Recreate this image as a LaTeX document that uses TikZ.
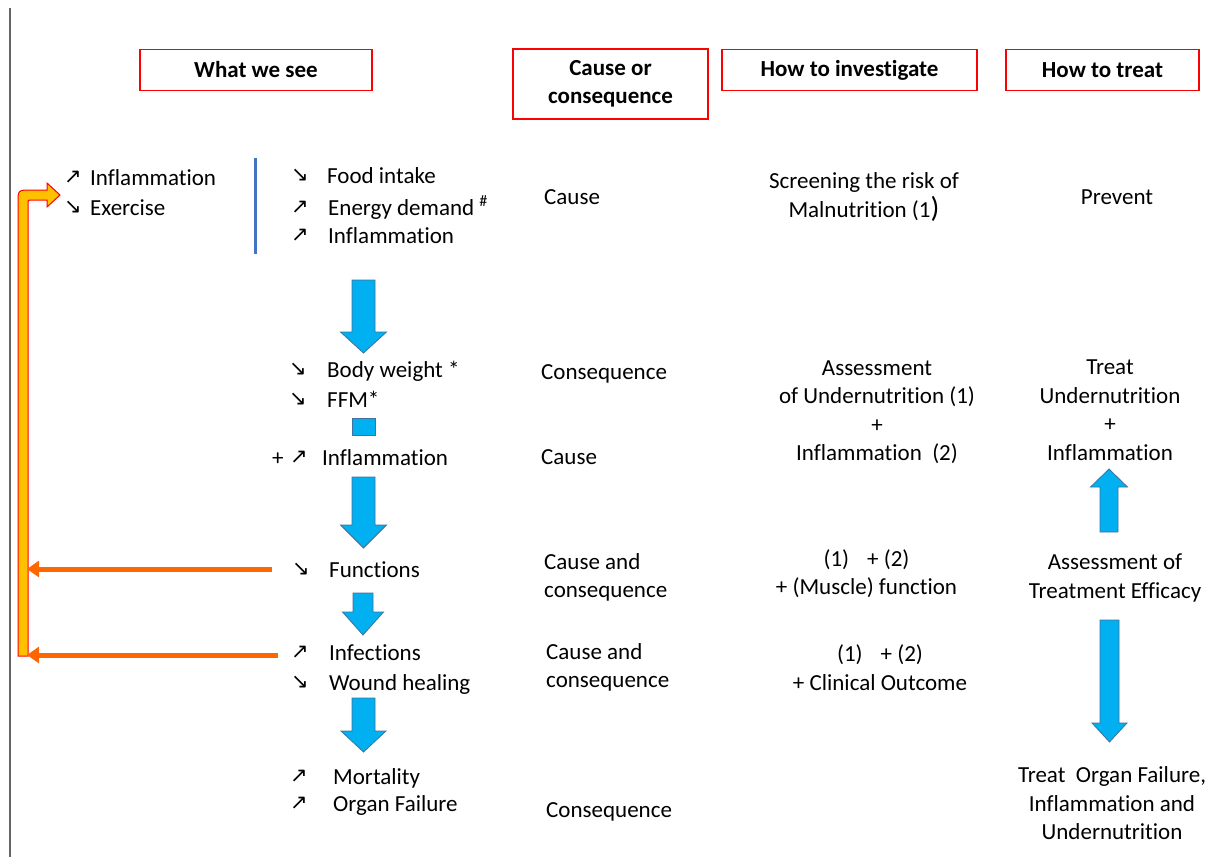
\documentclass[tikz,border=0pt]{standalone}
\usepackage{fontspec}
\setmainfont{Carlito}[Ligatures=NoCommon]
\newfontfamily\symf{DejaVu Sans}
\usetikzlibrary{arrows.meta}
\definecolor{hdrred}{RGB}{255,0,0}
\definecolor{bluefill}{RGB}{0,176,240}
\definecolor{blueline}{RGB}{65,113,156}
\definecolor{orangec}{RGB}{255,102,0}
\definecolor{goldc}{RGB}{255,192,0}
\definecolor{barblue}{RGB}{68,114,196}
\definecolor{greyline}{RGB}{100,100,100}
\newcommand\arrUp{{\symf\fontsize{21}{21}\selectfont ↗}}
\newcommand\arrDn{{\symf\fontsize{21}{21}\selectfont ↘}}
\newcommand\blkarrow[6]{% cx, start, headbase, tip, shaft half, head half
  \filldraw[blk] (#1-#5,#2) -- (#1+#5,#2) -- (#1+#5,#3) -- (#1+#6,#3) -- (#1,#4) -- (#1-#6,#3) -- (#1-#5,#3) -- cycle;}
\begin{document}
\begin{tikzpicture}[x=1pt,y=-1pt,
  every node/.style={inner sep=0pt, font=\fontsize{23}{28.5}\selectfont},
  txt/.style={anchor=west, text height=21pt, text depth=4pt},
  sym/.style={anchor=west},
  ctr/.style={align=center, anchor=center},
  lft/.style={align=left, anchor=west},
  hdr/.style={draw=hdrred, line width=1.3pt, font=\bfseries\fontsize{23}{28.5}\selectfont, align=center},
  blk/.style={fill=bluefill, draw=blueline, line width=0.8pt},
  orng/.style={draw=orangec, line width=5pt, -{Triangle[length=12pt,width=16pt]}},
]
\useasboundingbox (0,0) rectangle (1213,857);
% left grey rule
\draw[greyline, line width=2pt] (10,8) -- (10,857);

% headers
\node[hdr, minimum width=232, minimum height=41] (h1) at (256,70) {What we see};
\node[hdr, minimum width=195, minimum height=70] (h2) at (610.5,84) {Cause or\\consequence};
\node[hdr, minimum width=255, minimum height=41] (h3) at (849.5,70) {How to investigate};
\node[hdr, minimum width=193, minimum height=41] (h4) at (1102.5,70) {How to treat};

% left side causes
\node[sym] (la1) at (64,177) {\arrUp};
\node[txt] (lt1) at (90,177) {Inflammation};
\node[sym] (la2) at (64,207) {\arrDn};
\node[txt] (lt2) at (90,207) {Exercise};

\draw[barblue, line width=3pt] (255,158) -- (255,254);

% what we see column
\node[sym] (a1) at (291,175) {\arrDn};
\node[txt] (t1) at (327,175) {Food intake};
\node[sym] (a2) at (291,207) {\arrUp};
\node[txt] (t2) at (328,207) {Energy demand \textsuperscript{\#}};
\node[sym] (a3) at (291,235) {\arrUp};
\node[txt] (t3) at (328,235) {Inflammation};

\node[sym] (a4) at (289,369) {\arrDn};
\node[txt] (t4) at (327,369) {Body weight *};
\node[sym] (a5) at (289,399) {\arrDn};
\node[txt] (t5) at (327,399) {FFM*};

\node[txt] (p6) at (272,457) {+};
\node[sym] (a6) at (290,457) {\arrUp};
\node[txt] (t6) at (322,457) {Inflammation};

\node[sym] (a7) at (292,569) {\arrDn};
\node[txt] (t7) at (329,569) {Functions};

\node[sym] (a8) at (291,652) {\arrUp};
\node[txt] (t8) at (329,652) {Infections};
\node[sym] (a9) at (291,682) {\arrDn};
\node[txt] (t9) at (329,682) {Wound healing};

\node[sym] (a10) at (290,776) {\arrUp};
\node[txt] (t10) at (333,776) {Mortality};
\node[sym] (a11) at (290,803) {\arrUp};
\node[txt] (t11) at (333,803) {Organ Failure};

% blue block arrows (left)
\blkarrow{363.5}{280}{332}{353}{11.5}{23}
\filldraw[blk] (352,418) rectangle (375,435);
\blkarrow{363.5}{477}{525}{548}{11.5}{23}
\blkarrow{363}{593}{612}{635}{10}{20.5}
\blkarrow{363.5}{698}{731}{752}{11.5}{22.5}

% cause or consequence column
\node[txt] (c1) at (544,196) {Cause};
\node[txt] (c2) at (541,371) {Consequence};
\node[txt] (c3) at (541,456) {Cause};
\node[lft] (c4) at (544,577.5) {Cause and\\consequence};
\node[lft] (c5) at (546,667.5) {Cause and\\consequence};
\node[txt] (c6) at (546,809) {Consequence};

% how to investigate column
\node[ctr] (i1) at (864,197) {Screening the risk of\\Malnutrition (1{\fontsize{29}{29}\selectfont)}};
\node[ctr] (i2) at (877,412) {Assessment\\of Undernutrition (1)\\+\\Inflammation\ \ (2)};
\node[ctr] (i3) at (866.5,573.5) {(1)\hspace{18pt}+ (2)\\+ (Muscle) function};
\node[ctr] (i4) at (880,667.5) {(1)\hspace{18pt}+ (2)\\+ Clinical Outcome};

% how to treat column
\node[txt, anchor=center] (r1) at (1117,196) {Prevent};
\node[ctr] (r2) at (1110,410) {Treat\\Undernutrition\\+\\Inflammation};
\node[ctr] (r3) at (1115,578) {Assessment of\\Treatment Efficacy};
\node[ctr] (r4) at (1112,803.5) {Treat\ \ Organ Failure,\\Inflammation and\\Undernutrition};

\blkarrow{1109}{532}{487}{469}{9}{18.5}
\blkarrow{1109.5}{620}{723}{742}{9.5}{17.5}

% feedback bent arrow
\filldraw[fill=goldc, draw=hdrred, line width=1pt]
  (18,656) -- (18,203) .. controls (18,190) .. (31,190) -- (47,190) -- (47,183)
  -- (60,195) -- (47,207) -- (47,200) -- (31,200) .. controls (28,200) .. (28,203)
  -- (28,656) -- cycle;

% orange feedback connectors
\coordinate (o1s) at (272,569);
\coordinate (o1e) at (27,569);
\coordinate (o2s) at (278,655);
\coordinate (o2e) at (27,655);
\draw[orng] (o1s) -- (o1e);
\draw[orng] (o2s) -- (o2e);
\end{tikzpicture}
\end{document}
